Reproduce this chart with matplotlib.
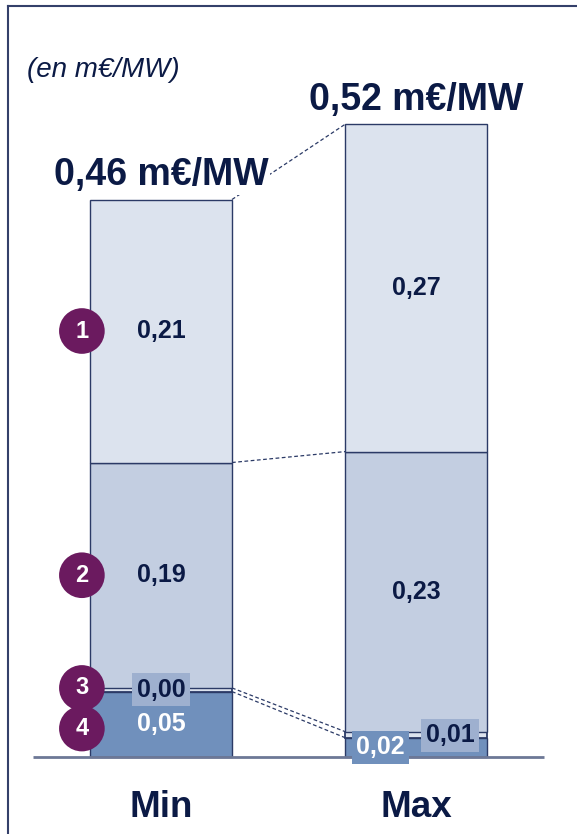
"""Coût en m€/MW, fourchette Min / Max, barres empilées en 4 postes."""
import matplotlib
matplotlib.use("Agg")
import matplotlib.pyplot as plt  # noqa: E402
from matplotlib.lines import Line2D  # noqa: E402

plt.rcParams["font.family"] = ["Liberation Sans", "DejaVu Sans"]

CATEGORIES = ["Min", "Max"]
# postes 4 (bas) -> 1 (haut)
SEG4 = [0.054, 0.016]
SEG3 = [0.003, 0.005]
SEG2 = [0.186, 0.231]
SEG1 = [0.217, 0.270]
SEG_LABELS = [["0,05", "0,00", "0,19", "0,21"],
              ["0,02", "0,01", "0,23", "0,27"]]
TOTAL_LABELS = ["0,46 m€/MW", "0,52 m€/MW"]
BADGES = ["1", "2", "3", "4"]

NAVY = "#0b1a45"
EDGE = "#2b3a66"
C1, C2, C3, C4 = "#dce3ee", "#c3cee1", "#dce3ee", "#7090bc"
BOX = "#9eb0cf"
PURPLE = "#6b1a5f"


def main() -> None:
    fig = plt.figure(figsize=(5.77, 8.34), dpi=100)
    ax = fig.add_axes([0, 0, 1, 1])
    ax.set_xlim(-0.631, 1.631)
    ax.set_ylim(-0.0635, 0.6246)
    ax.axis("off")

    x = list(range(len(CATEGORIES)))
    w = 0.557
    segs = [SEG4, SEG3, SEG2, SEG1]
    cols = [C4, C3, C2, C1]
    bottoms = [0.0] * len(x)
    edges = []  # cumulative tops per category
    for vals, c in zip(segs, cols):
        lw = 1.3 if vals is SEG3 else 1.0
        ax.bar(x, vals, width=w, bottom=bottoms, color=c, edgecolor=EDGE,
               linewidth=lw, zorder=2)
        bottoms = [b + v for b, v in zip(bottoms, vals)]
        edges.append(list(bottoms))

    # connecteurs pointillés entre Min et Max
    for k in (0, 1, 2, 3):
        ax.plot([x[0] + w / 2, x[1] - w / 2], [edges[k][0], edges[k][1]],
                ls=(0, (3, 2)), color=EDGE, lw=0.9, zorder=1)

    # ligne de base
    ax.plot([-0.5, 1.5], [0, 0], color="#6d7896", lw=2, zorder=3,
            solid_capstyle="butt")

    box = dict(boxstyle="square,pad=0.18", ec="none")
    # libellés des segments
    for i in x:
        lows = [0.0] + [e[i] for e in edges[:-1]]
        mids = [lo + v[i] / 2 for lo, v in zip(lows, segs)]
        labs = SEG_LABELS[i]
        if i == 0:
            ax.text(i, mids[0], labs[0], ha="center", va="center",
                    fontsize=18, fontweight="bold", color="white", zorder=5)
            ax.text(i, mids[1], labs[1], ha="center", va="center",
                    fontsize=18, fontweight="bold", color=NAVY, zorder=5,
                    bbox=dict(box, fc=BOX))
        else:
            ax.text(i - 0.14, 0.008, labs[0], ha="center", va="center",
                    fontsize=18, fontweight="bold", color="white", zorder=5,
                    bbox=dict(box, fc=C4))
            ax.text(i + 0.133, 0.018, labs[1], ha="center", va="center",
                    fontsize=18, fontweight="bold", color=NAVY, zorder=5,
                    bbox=dict(box, fc=BOX))
        for m, lab in zip(mids[2:], labs[2:]):
            ax.text(i, m, lab, ha="center", va="center", fontsize=18,
                    fontweight="bold", color=NAVY, zorder=5)

        ax.text(i, edges[-1][i] + 0.012, TOTAL_LABELS[i], ha="center",
                va="baseline", fontsize=27, fontweight="bold", color=NAVY,
                zorder=6, bbox=dict(boxstyle="square,pad=0.05", fc="white",
                                    ec="none"))
        ax.text(i, -0.042, CATEGORIES[i], ha="center", va="center",
                fontsize=26.5, fontweight="bold", color=NAVY)

    # pastilles numérotées à gauche de Min
    lows = [0.0] + [e[0] for e in edges[:-1]]
    m = [lo + v[0] / 2 for lo, v in zip(lows, segs)]
    badge_y = [m[3], m[2], m[1] + 0.0015, m[1] - 0.032]
    bx = x[0] - 0.31
    for lab, by in zip(BADGES, badge_y):
        ax.scatter([bx], [by], s=1080, color=PURPLE, zorder=7,
                   edgecolors="none")
        ax.text(bx, by, lab, ha="center", va="center", fontsize=17,
                fontweight="bold", color="white", zorder=8)

    ax.text(-0.525, 0.567, "(en m€/MW)", ha="left", va="center",
            fontsize=20, style="italic", color=NAVY)

    # cadre (haut et gauche)
    fig.add_artist(Line2D([8 / 577, 8 / 577], [0, 1 - 6 / 834],
                          color="#34406a", lw=1.5))
    fig.add_artist(Line2D([8 / 577, 1.01], [1 - 6 / 834, 1 - 6 / 834],
                          color="#34406a", lw=1.5))

    fig.savefig("out.png", dpi=100)


if __name__ == "__main__":
    main()
